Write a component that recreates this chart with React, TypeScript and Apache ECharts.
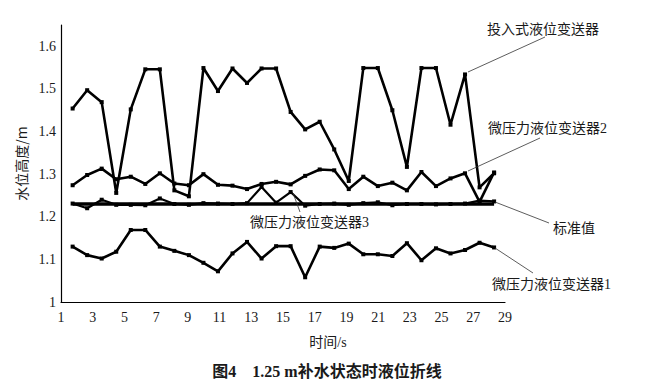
import React, { useEffect, useRef } from "react";
import * as echarts from "echarts";

// 30 samples, plotted on a hidden sample-index axis
const seriesInput = [1.454, 1.497, 1.469, 1.256, 1.452, 1.546, 1.546, 1.262, 1.248, 1.549, 1.495, 1.548, 1.514, 1.548, 1.548, 1.446, 1.405, 1.423, 1.358, 1.284, 1.549, 1.549, 1.45, 1.317, 1.549, 1.549, 1.416, 1.534, 1.269, 1.302];
const seriesMicro2 = [1.274, 1.298, 1.313, 1.288, 1.294, 1.277, 1.302, 1.278, 1.274, 1.3, 1.275, 1.273, 1.265, 1.277, 1.282, 1.276, 1.296, 1.311, 1.309, 1.265, 1.294, 1.272, 1.28, 1.262, 1.305, 1.272, 1.29, 1.302, 1.235, 1.304];
const seriesMicro3 = [1.231, 1.22, 1.24, 1.228, 1.228, 1.227, 1.243, 1.23, 1.228, 1.232, 1.231, 1.23, 1.232, 1.27, 1.233, 1.258, 1.226, 1.23, 1.231, 1.228, 1.232, 1.234, 1.227, 1.23, 1.23, 1.229, 1.23, 1.231, 1.238, 1.236];
const seriesStandard = [1.23, 1.23, 1.23, 1.23, 1.23, 1.23, 1.23, 1.23, 1.23, 1.23, 1.23, 1.23, 1.23, 1.23, 1.23, 1.23, 1.23, 1.23, 1.23, 1.23, 1.23, 1.23, 1.23, 1.23, 1.23, 1.23, 1.23, 1.23, 1.23, 1.23];
const seriesMicro1 = [1.13, 1.11, 1.102, 1.118, 1.169, 1.169, 1.13, 1.12, 1.11, 1.092, 1.072, 1.114, 1.141, 1.102, 1.131, 1.131, 1.058, 1.13, 1.127, 1.137, 1.112, 1.112, 1.108, 1.138, 1.098, 1.126, 1.114, 1.122, 1.139, 1.128];

const seriesNames = ["投入式液位变送器", "微压力液位变送器2", "微压力液位变送器3", "标准值", "微压力液位变送器1"];
const yTicks = { min: 1, max: 1.65, interval: 0.1 };
const xTicks = { min: 1, max: 29, interval: 2 };

const FONT = "Liberation Serif";
const MIXED = "Liberation Serif, Noto Sans CJK SC, serif";
const CJK = "Noto Sans CJK SC, Liberation Serif, serif";
const INK = "#1a1a1a";

export default function App() {
  const ref = useRef<HTMLDivElement>(null);
  useEffect(() => {
    document.body.style.margin = "0";
    const chart = echarts.init(ref.current!, null, { renderer: "svg" });
    const toPairs = (arr: number[]) => arr.map((v, i) => [i + 1, v]);
    const lineSeries = (name: string, data: number[], width: number, symbol: string | null) => ({
      name,
      type: "line",
      xAxisIndex: 1,
      data: toPairs(data),
      symbol: symbol || "none",
      symbolSize: 4,
      showSymbol: !!symbol,
      itemStyle: { color: "#000" },
      lineStyle: { color: "#000", width },
      z: 3,
    });
    const leaders: [number, number, number, number][] = [
      [468, 72, 545, 37],
      [468, 171, 540, 138],
      [495, 202, 549, 223],
      [495, 248, 533, 273],
      [293, 193, 300, 212],
    ];
    const labels: [string, number, number][] = [
      [seriesNames[0], 487, 29],
      [seriesNames[1], 488, 128],
      [seriesNames[3], 553, 228],
      [seriesNames[4], 492, 284],
      [seriesNames[2], 250, 222],
    ];
    chart.setOption({
      animation: false,
      grid: { left: 61, right: 142, top: 25, bottom: 89, containLabel: false },
      xAxis: [
        {
          type: "value",
          min: xTicks.min,
          max: xTicks.max,
          interval: xTicks.interval,
          axisLine: { show: true, lineStyle: { color: "#000", width: 1.2 } },
          axisTick: { show: false },
          splitLine: { show: false },
          axisLabel: { color: INK, fontFamily: FONT, fontSize: 14, margin: 8 },
        },
        {
          type: "value",
          min: 0.2,
          max: 30.75,
          show: false,
          splitLine: { show: false },
        },
      ],
      yAxis: {
        type: "value",
        min: yTicks.min,
        max: yTicks.max,
        interval: yTicks.interval,
        name: "水位高度/m",
        nameLocation: "middle",
        nameRotate: 90,
        nameGap: 32,
        nameTextStyle: { color: INK, fontFamily: CJK, fontSize: 14 },
        axisLine: { show: true, lineStyle: { color: "#000", width: 1.2 } },
        axisTick: { show: false },
        splitLine: { show: false },
        axisLabel: {
          color: INK,
          fontFamily: FONT,
          fontSize: 14,
          margin: 5,
          showMaxLabel: false,
          formatter: (v: number) => String(Math.round(v * 10) / 10),
        },
      },
      series: [
        lineSeries(seriesNames[0], seriesInput, 2.6, "rect"),
        lineSeries(seriesNames[1], seriesMicro2, 2.6, "rect"),
        lineSeries(seriesNames[2], seriesMicro3, 2.2, "rect"),
        lineSeries(seriesNames[3], seriesStandard, 3.6, null),
        lineSeries(seriesNames[4], seriesMicro1, 2.6, "rect"),
      ],
      graphic: [
        ...leaders.map(([x1, y1, x2, y2]) => ({
          type: "line",
          shape: { x1, y1, x2, y2 },
          style: { stroke: "#333", lineWidth: 0.8 },
          z: 10,
        })),
        ...labels.map(([t, x, y]) => ({
          type: "text",
          x,
          y,
          style: { text: t, fill: INK, fontSize: 14, fontFamily: MIXED, verticalAlign: "middle" },
          z: 10,
        })),
        {
          type: "text",
          x: 328,
          y: 342,
          style: { text: "时间/s", fill: INK, fontSize: 14, fontFamily: MIXED, align: "center", verticalAlign: "middle" },
        },
        {
          type: "text",
          x: 327,
          y: 371,
          style: {
            text: "图4　1.25 m补水状态时液位折线",
            fill: INK,
            fontSize: 16,
            fontWeight: "bold",
            fontFamily: MIXED,
            align: "center",
            verticalAlign: "middle",
          },
        },
      ],
    });
    return () => chart.dispose();
  }, []);
  return <div ref={ref} style={{ position: "absolute", left: 0, top: 0, width: 647, height: 391 }} />;
}
